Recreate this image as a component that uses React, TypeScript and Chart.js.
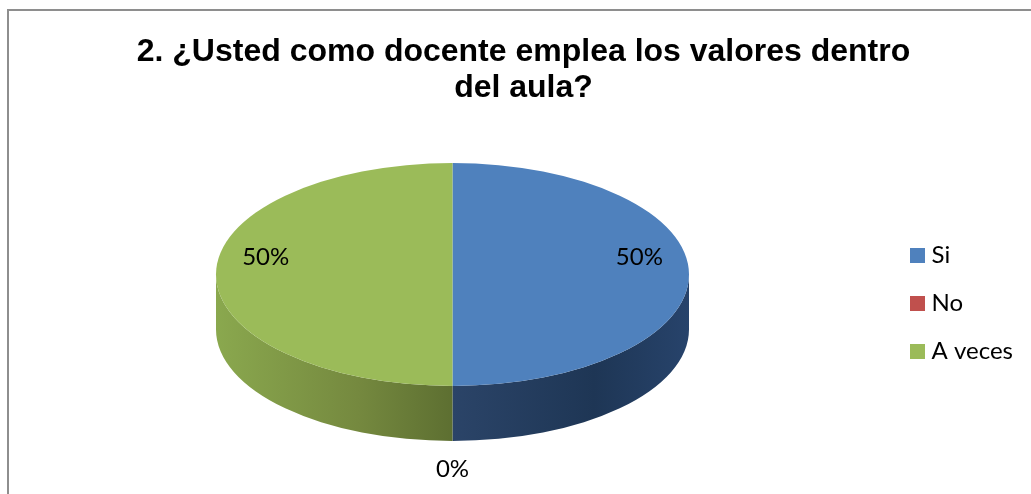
import React, { useEffect, useRef } from "react";
import { Chart, registerables } from "chart.js";

Chart.register(...registerables);

const titleLines = ["2. ¿Usted como docente emplea los valores dentro", "del aula?"];
const categories = ["Si", "No", "A veces"];
const seriesValues = [50, 0, 50];
const sliceColors = ["#4f81bd", "#c0504d", "#9bbb59"];
const sideStops = [
  ["#2b4468", "#1e3655", "#27436b"],
  ["#7d3230", "#7d3230", "#7d3230"],
  ["#8aa84e", "#75893f", "#5d6f31"],
];

const CX = 452.5;
const CY = 274.5;
const RX = 236.5;
const RY = 111.5;
const DEPTH = 55;
const BASE_R = 100;
const LABEL_FONT = "Lato";
const LABEL_SIZE = 24;

function swatch(color: string) {
  const c = document.createElement("canvas");
  c.width = 15;
  c.height = 15;
  const x = c.getContext("2d")!;
  x.fillStyle = color;
  x.fillRect(0, 0, 15, 15);
  return c;
}

const framePlugin = {
  id: "frame",
  beforeDraw(chart: any) {
    const { ctx, width, height } = chart;
    ctx.save();
    ctx.fillStyle = "#8e8e8e";
    ctx.fillRect(7, 9, 2, height - 9);
    ctx.fillRect(7, 9, width - 7, 2);
    ctx.restore();
  },
};

const pie3dPlugin = {
  id: "pie3d",
  beforeDatasetsDraw(chart: any) {
    const { ctx } = chart;
    const arcs = chart.getDatasetMeta(0).data;
    ctx.save();
    arcs.forEach((arc: any, i: number) => {
      const a = Math.max(arc.startAngle, 0);
      const b = Math.min(arc.endAngle, Math.PI);
      if (b <= a) return;
      const g = ctx.createLinearGradient(
        a < Math.PI / 2 ? CX : CX - RX, 0,
        a < Math.PI / 2 ? CX + RX : CX, 0
      );
      const st = sideStops[i];
      g.addColorStop(0, st[0]);
      g.addColorStop(0.6, st[1]);
      g.addColorStop(1, st[2]);
      ctx.fillStyle = g;
      ctx.beginPath();
      ctx.ellipse(CX, CY, RX, RY, 0, a, b);
      ctx.ellipse(CX, CY + DEPTH, RX, RY, 0, b, a, true);
      ctx.closePath();
      ctx.fill();
    });
    ctx.restore();
    const first = arcs[0];
    ctx.save();
    ctx.translate(CX, CY);
    ctx.scale(RX / BASE_R, RY / BASE_R);
    ctx.translate(-first.x, -first.y);
  },
  afterDatasetsDraw(chart: any) {
    const { ctx } = chart;
    ctx.restore();
    const arcs = chart.getDatasetMeta(0).data;
    const total = seriesValues.reduce((s, v) => s + v, 0);
    ctx.save();
    ctx.fillStyle = "#000";
    ctx.font = `${LABEL_SIZE}px ${LABEL_FONT}`;
    ctx.textAlign = "center";
    ctx.textBaseline = "middle";
    arcs.forEach((arc: any, i: number) => {
      const v = seriesValues[i];
      const mid = (arc.startAngle + arc.endAngle) / 2;
      const text = `${Math.round((v / total) * 100)}%`;
      if (v === 0) {
        ctx.fillText(text, CX + RX * Math.cos(mid), CY + RY + DEPTH + 28);
      } else {
        ctx.fillText(text, CX + 0.79 * RX * Math.cos(mid), CY - 17);
      }
    });
    ctx.restore();
  },
};

export default function App() {
  const ref = useRef<HTMLCanvasElement>(null);
  useEffect(() => {
    const pieDefaults: any = (Chart as any).overrides.pie.plugins.legend.labels;
    const chart = new Chart(ref.current!, {
      type: "pie",
      data: {
        labels: categories,
        datasets: [
          {
            data: seriesValues,
            backgroundColor: sliceColors,
            borderWidth: 0,
            clip: false,
          } as any,
        ],
      },
      options: {
        responsive: false,
        animation: false,
        devicePixelRatio: 1,
        radius: BASE_R,
        layout: { padding: { left: 24, right: 24 } },
        plugins: {
          tooltip: { enabled: false },
          title: {
            display: true,
            text: titleLines,
            color: "#000",
            font: { family: "Liberation Sans", size: 32, weight: "bold", lineHeight: 1.125 },
            padding: { top: 34, bottom: 6 },
          },
          legend: {
            position: "right",
            fullSize: false,
            labels: {
              usePointStyle: true,
              pointStyleWidth: 5,
              padding: 24,
              color: "#000",
              font: { family: LABEL_FONT, size: LABEL_SIZE },
              generateLabels(c: any) {
                return pieDefaults.generateLabels(c).map((it: any, i: number) => ({
                  ...it,
                  pointStyle: swatch(sliceColors[i]),
                  lineWidth: 0,
                }));
              },
            },
          },
        },
      } as any,
      plugins: [framePlugin, pie3dPlugin],
    });
    return () => chart.destroy();
  }, []);
  return (
    <div style={{ position: "fixed", left: 0, top: 0, width: 1031, height: 494, overflow: "hidden", background: "#fff" }}>
      <canvas ref={ref} width={1047} height={494} style={{ display: "block", width: 1047, height: 494 }} />
    </div>
  );
}
